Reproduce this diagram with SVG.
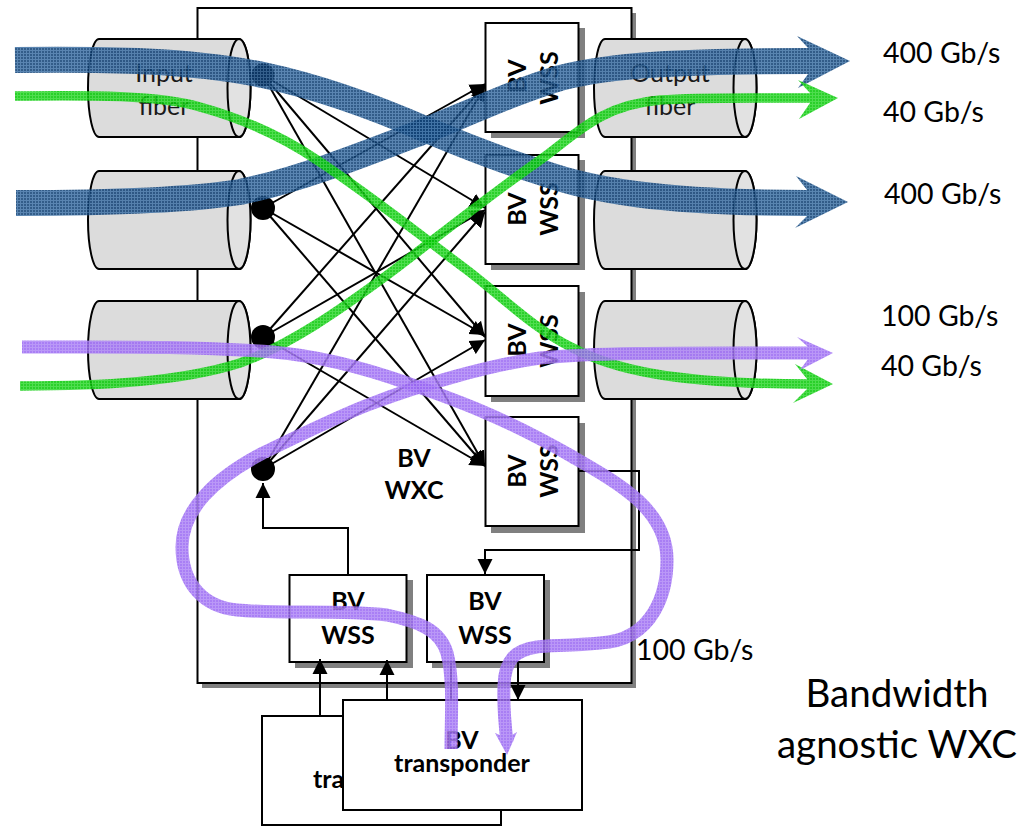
<svg xmlns="http://www.w3.org/2000/svg" width="1032" height="826" viewBox="0 0 1032 826">
<style>
.sh{fill:#808080}
.box{fill:#fff;stroke:#000;stroke-width:2}
.cyl{fill:#dcdcdc;stroke:#000;stroke-width:2}
.end{fill:#e2e2e2;stroke:#000;stroke-width:2}
.conn{fill:none;stroke:#000;stroke-width:2}
.t{font-family:Lato,"Open Sans",sans-serif;fill:#000}
.b{font-weight:700;font-size:25px;text-anchor:middle}
.r{font-size:28.500px}
.f{font-size:25px;text-anchor:middle;fill:#1a1a1a}
.rb{fill:none}
</style>
<defs>
<marker id="ah" markerUnits="userSpaceOnUse" markerWidth="16" markerHeight="16" refX="15" refY="8" orient="auto"><path d="M0,0.5L15,8L0,15.500z" fill="#000"/></marker>
<pattern id="pb" patternUnits="userSpaceOnUse" width="3" height="3"><rect width="3" height="3" fill="#0f4074"/><path d="M0,2.500H3M2.500,0V3" stroke="#3d70a3" stroke-width="1"/></pattern>
<pattern id="pg" patternUnits="userSpaceOnUse" width="3" height="3"><rect width="3" height="3" fill="#05c805"/><path d="M0,2.500H3M2.500,0V3" stroke="#30d830" stroke-width="1"/></pattern>
<pattern id="pp" patternUnits="userSpaceOnUse" width="3" height="3"><rect width="3" height="3" fill="#9a68f3"/><path d="M0,2.500H3M2.500,0V3" stroke="#ae86f6" stroke-width="1"/></pattern>
<g id="cy"><path class="cyl" d="M11,0H151A11.500,49 0 0 1 151,98H11A11,49 0 0 1 11,0z"/><ellipse class="end" cx="151" cy="49" rx="11.500" ry="49"/></g>
</defs>
<g id="frame"><rect class="sh" x="202" y="13" width="434" height="675"/><rect class="box" x="197.500" y="8" width="434" height="675"/></g>
<g id="in1"><use href="#cy" x="88" y="39"/><text class="t f"><tspan x="164" y="82">Input</tspan><tspan x="164" y="115">fiber</tspan></text></g>
<g id="in2"><use href="#cy" x="88" y="171"/></g>
<g id="in3"><use href="#cy" x="88" y="301"/></g>
<g id="out1"><use href="#cy" x="594" y="39"/><text class="t f"><tspan x="670" y="82">Output</tspan><tspan x="670" y="115">fiber</tspan></text></g>
<g id="out2"><use href="#cy" x="594" y="171"/></g>
<g id="out3"><use href="#cy" x="594" y="301"/></g>
<g id="wss1"><rect class="sh" x="491" y="28" width="94" height="110"/><rect class="box" x="485.500" y="23" width="93" height="109"/><text class="t b" transform="translate(526,76) rotate(-90)">BV</text><text class="t b" transform="translate(558,78) rotate(-90)">WSS</text></g>
<g id="wss2"><rect class="sh" x="491" y="160" width="94" height="110"/><rect class="box" x="485.500" y="155" width="93" height="109"/><text class="t b" transform="translate(526,209) rotate(-90)">BV</text><text class="t b" transform="translate(558,209) rotate(-90)">WSS</text></g>
<g id="wss3"><rect class="sh" x="491" y="292" width="94" height="110"/><rect class="box" x="485.500" y="286" width="93" height="110"/><text class="t b" transform="translate(526,340) rotate(-90)">BV</text><text class="t b" transform="translate(558,341) rotate(-90)">WSS</text></g>
<g id="wss4"><rect class="sh" x="491" y="423" width="94" height="110"/><rect class="box" x="485.500" y="417" width="93" height="109"/><text class="t b" transform="translate(526,471) rotate(-90)">BV</text><text class="t b" transform="translate(558,471) rotate(-90)">WSS</text></g>
<g id="wss5"><rect class="sh" x="295" y="580" width="118" height="88"/><rect class="box" x="289.500" y="575" width="117" height="87"/><text class="t b"><tspan x="348" y="610">BV</tspan><tspan x="348" y="644">WSS</tspan></text></g>
<g id="wss6"><rect class="sh" x="432" y="580" width="118" height="88"/><rect class="box" x="427" y="575" width="117" height="87"/><text class="t b"><tspan x="485" y="610">BV</tspan><tspan x="485" y="644">WSS</tspan></text></g>
<g id="wxc-label"><text class="t b"><tspan x="414" y="467">BV</tspan><tspan x="414" y="499">WXC</tspan></text></g>
<g id="connectors">
<path class="conn" marker-end="url(#ah)" d="M263,75L485,208"/>
<path class="conn" marker-end="url(#ah)" d="M263,75L485,337"/>
<path class="conn" marker-end="url(#ah)" d="M263,75L485,466"/>
<path class="conn" marker-end="url(#ah)" d="M263,208L485,84"/>
<path class="conn" marker-end="url(#ah)" d="M263,208L485,335"/>
<path class="conn" marker-end="url(#ah)" d="M263,208L485,466"/>
<path class="conn" marker-end="url(#ah)" d="M263,337L485,85"/>
<path class="conn" marker-end="url(#ah)" d="M263,337L485,210"/>
<path class="conn" marker-end="url(#ah)" d="M263,337L485,466"/>
<path class="conn" marker-end="url(#ah)" d="M263,469L485,86"/>
<path class="conn" marker-end="url(#ah)" d="M263,469L485,212"/>
<path class="conn" marker-end="url(#ah)" d="M263,469L485,340"/>
<path class="conn" marker-end="url(#ah)" d="M579,471H639V550H485V574"/>
<path class="conn" marker-end="url(#ah)" d="M348,575V528H263V483"/>
<path class="conn" marker-end="url(#ah)" d="M320,716V659"/>
<path class="conn" marker-end="url(#ah)" d="M387,700V660"/>
<path class="conn" marker-end="url(#ah)" d="M518,662V700"/>
<path class="conn" d="M451,662V700"/>
</g>
<g id="dots"><circle cx="263" cy="75" r="11.500"/><circle cx="263" cy="208" r="12"/><circle cx="263" cy="337" r="12"/><circle cx="263" cy="469" r="12"/></g>
<g id="transponder-back"><rect class="box" x="262" y="716" width="239" height="109"/><text class="t b" x="313" y="788" style="text-anchor:start">tra</text></g>
<g id="transponder-front"><rect class="box" x="343" y="700" width="239" height="110"/><text class="t b"><tspan x="462" y="749">BV</tspan><tspan x="462" y="772">transponder</tspan></text></g>
<g id="ribbons">
<g opacity=".85"><path class="rb" stroke="url(#pb)" stroke-width="26" d="M15,60C110,59 190,60 263,75C310,85 370,105 427,130C470,148 500,160 540,172C590,190 660,203 808,203"/><polygon fill="url(#pb)" points="796,176 848,202 795,228 807,216 807,190"/></g>
<g opacity=".85"><path class="rb" stroke="url(#pb)" stroke-width="26" d="M16,203C110,203 190,200 240,192C300,180 370,152 427,130C480,108 520,90 560,78C610,65 680,61 808,61"/><polygon fill="url(#pb)" points="797,36 850,61 798,88 808,74 808,48"/></g>
<g opacity=".85"><path class="rb" stroke="url(#pg)" stroke-width="9.500" d="M15,96C90,95 160,95 200,107C240,118 280,135 317,160C370,195 420,235 467,270C500,295 535,330 573,348C610,368 670,384 808,384"/><polygon fill="url(#pg)" points="795,364 833,384 793,403 807,389 807,379"/></g>
<g opacity=".85"><path class="rb" stroke="url(#pg)" stroke-width="9.500" d="M20,386C100,386 180,382 240,363C290,345 340,310 390,273C440,235 490,195 540,160C575,135 600,105 660,100C700,97 740,98 810,98"/><polygon fill="url(#pg)" points="798,80 838,98 799,119 810,103 810,93"/></g>
<g opacity=".85"><path class="rb" stroke="url(#pp)" stroke-width="13" d="M22,347C120,347 190,346 273,352C320,356 370,370 407,383C450,398 500,415 573,457C620,484 667,510 667,560C667,590 655,640 600,643C570,646 545,645 537,647C515,650 505,660 504,685C503,705 505,725 507,742"/><polygon fill="url(#pp)" points="495,733 507,755 517,732 507,738"/></g>
<g opacity=".85"><path class="rb" stroke="url(#pp)" stroke-width="13" d="M451,749C451,715 454,680 447,653C440,630 420,622 387,615C340,610 280,614 237,610C205,607 182,585 182,547C182,510 215,478 263,453C290,440 340,415 373,403C420,385 490,365 540,358C600,352 690,353 810,353"/><polygon fill="url(#pp)" points="797,337 833,353 800,370 808,359 808,347"/></g>
</g>
<g id="labels">
<text class="t r" x="883" y="63">400 Gb/s</text>
<text class="t r" x="883" y="122">40 Gb/s</text>
<text class="t r" x="884" y="204">400 Gb/s</text>
<text class="t r" x="881" y="326">100 Gb/s</text>
<text class="t r" x="881" y="376">40 Gb/s</text>
<text class="t r" x="636" y="660">100 Gb/s</text>
<text class="t" style="font-size:38.500px;text-anchor:middle"><tspan x="897" y="707">Bandwidth</tspan><tspan x="897" y="758">agnostic WXC</tspan></text>
</g>
</svg>
